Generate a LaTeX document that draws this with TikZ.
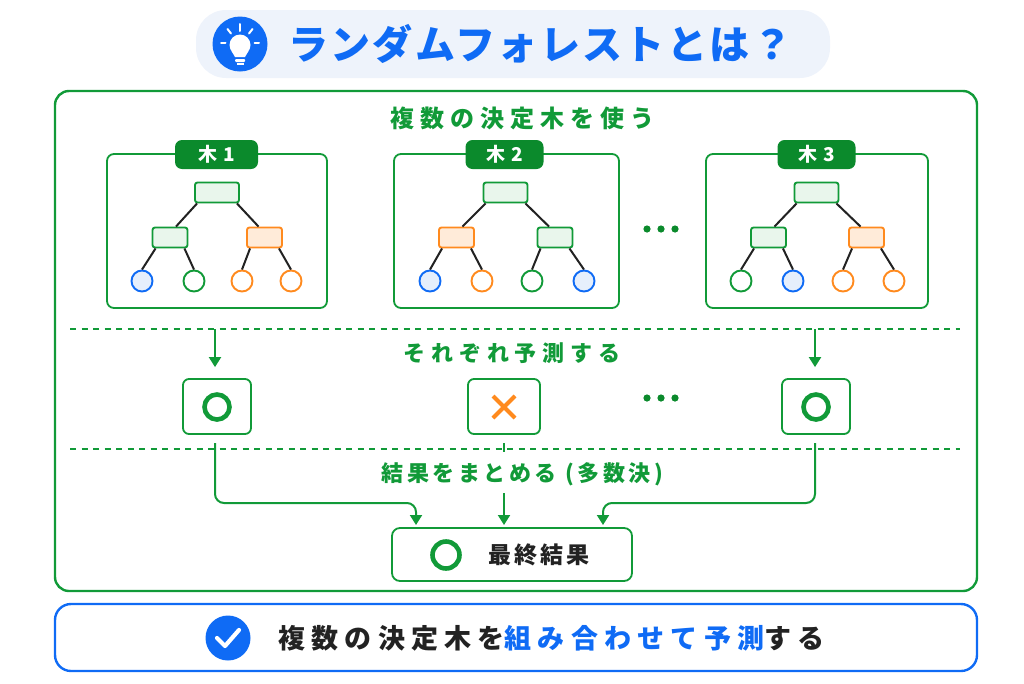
\documentclass[tikz,border=0pt]{standalone}
\usepackage{fontspec}
\usetikzlibrary{arrows.meta,calc}
\setmainfont{Noto Sans CJK JP}
\definecolor{gr}{HTML}{119A38}
\definecolor{dgr}{HTML}{0B8A2C}
\definecolor{bl}{HTML}{0F6BF5}
\definecolor{orr}{HTML}{FF8A1E}
\definecolor{lgr}{HTML}{E9F6EC}
\definecolor{lor}{HTML}{FFEBD9}
\definecolor{lbl}{HTML}{E6EFFC}
\definecolor{pill}{HTML}{EEF3FB}
\definecolor{ink}{HTML}{222222}
\newcommand\spaced[2]{\addfontfeature{LetterSpace=#1}#2}
\tikzset{
  x=1pt,y=-1pt,
  frame/.style={draw=gr,line width=1.8pt,rounded corners=7pt,fill=white},
  tab/.style={fill=dgr,rounded corners=7pt,minimum width=78pt,minimum height=29pt,inner sep=0pt,text=white,font=\bfseries\fontsize{19}{21}\selectfont},
  grect/.style={draw=gr,fill=lgr,line width=1.9pt,rounded corners=2.5pt,minimum width=35pt,minimum height=20pt,inner sep=0pt},
  grootrect/.style={grect,minimum width=44pt},
  orect/.style={grect,draw=orr,fill=lor},
  bleaf/.style={circle,draw=bl,fill=lbl,line width=1.9pt,minimum size=21pt,inner sep=0pt},
  gleaf/.style={bleaf,draw=gr,fill=white},
  oleaf/.style={bleaf,draw=orr,fill=white},
  edge/.style={draw=ink,line width=2pt},
  divider/.style={draw=gr,line width=1.4pt,dash pattern=on 6pt off 5.5pt},
  flow/.style={draw=gr,line width=2pt,-{Triangle[length=10pt,width=12pt]}},
  resbox/.style={draw=gr,line width=1.8pt,rounded corners=6pt,fill=white,minimum width=68pt,minimum height=55pt,inner sep=0pt},
  okring/.style={circle,draw=gr,line width=4.6pt,minimum size=25pt,inner sep=0pt},
  headg/.style={text=gr,font=\bfseries\fontsize{22}{24}\selectfont,inner sep=0pt},
  iconray/.style={draw=white,line width=2pt,line cap=round},
}
\newcommand\treeleaves[5]{% child, x1, style1, x2, style2
  \node[#3] (#1a) at (#2,281) {};
  \node[#5] (#1b) at (#4,281) {};
  \draw[edge] ([xshift=4pt]#1.south west) -- (#1a.north);
  \draw[edge] ([xshift=-4pt]#1.south east) -- (#1b.north);
}
\newcommand\treetop[6]{% prefix, root x, left x, left style, right x, right style
  \node[grootrect] (#1r) at (#2,192.5) {};
  \node[#4] (#1l) at (#3,237.5) {};
  \node[#6] (#1m) at (#5,237.5) {};
  \draw[edge] ([xshift=3pt]#1r.south west) -- ([xshift=6pt]#1l.north);
  \draw[edge] ([xshift=-3pt]#1r.south east) -- ([xshift=-6pt]#1m.north);
}
\begin{document}
\begin{tikzpicture}
\useasboundingbox (0,0) rectangle (1024,683);
% title
\node[fill=pill,rounded corners=30pt,minimum width=634pt,minimum height=68pt,inner sep=0pt] (title) at (513,44) {};
\node[circle,fill=bl,minimum size=55pt,inner sep=0pt] (bulb) at (240,44) {};
\fill[white] (240,45) circle (10.5);
\fill[white] (231.5,51) -- (235,57) -- (245,57) -- (248.5,51) -- cycle;
\fill[white,rounded corners=1pt] (235,59) rectangle (245,62);
\fill[white] (236.5,63) rectangle (243.5,65);
\draw[iconray] (240,24) -- (240,31);
\draw[iconray] (227.5,29) -- (231,33.5);
\draw[iconray] (252.5,29) -- (249,33.5);
\draw[iconray] (221,43) -- (225.5,43);
\draw[iconray] (254.5,43) -- (259,43);
\node[text=bl,font=\bfseries\fontsize{40}{44}\selectfont,inner sep=0pt] (ttext) at (540,44) {\spaced{6}{ランダムフォレストとは？}};
% main frame
\node[draw=gr,line width=2.4pt,rounded corners=14pt,minimum width=922pt,minimum height=500pt,inner sep=0pt] (main) at (516,341) {};
\node[headg,font=\bfseries\fontsize{24}{26}\selectfont] (h1) at (522,118) {\spaced{25}{複数の決定木を使う}};
% tree frames
\node[frame,minimum width=220pt,minimum height=154pt,inner sep=0pt] (f1) at (217,231) {};
\node[frame,minimum width=225pt,minimum height=154pt,inner sep=0pt] (f2) at (506.5,231) {};
\node[frame,minimum width=222pt,minimum height=154pt,inner sep=0pt] (f3) at (817,231) {};
\node[tab,minimum width=83pt] (t1) at (216.5,154.5) {\spaced{8}{木 1}};
\node[tab] (t2) at (504.5,154.5) {\spaced{8}{木 2}};
\node[tab] (t3) at (816.5,154.5) {\spaced{8}{木 3}};
% tree 1
\treetop{a}{217}{170}{grect}{264.5}{orect}
\treeleaves{al}{142}{bleaf}{194}{gleaf}
\treeleaves{am}{242}{oleaf}{291}{oleaf}
% tree 2
\treetop{b}{505.5}{456.5}{orect}{555}{grect}
\treeleaves{bl}{430}{bleaf}{482}{oleaf}
\treeleaves{bm}{532}{gleaf}{584}{bleaf}
% tree 3
\treetop{c}{816.5}{768.5}{grect}{866.5}{orect}
\treeleaves{cl}{741}{gleaf}{793}{bleaf}
\treeleaves{cm}{843}{oleaf}{894}{oleaf}
% dots
\foreach \px in {647,661,675} {\fill[dgr] (\px,229) circle (3.6); \fill[dgr] (\px,398) circle (3.6);}
% dividers
\coordinate (d1a) at (70,329); \coordinate (d1b) at (960,329);
\coordinate (d2a) at (70,449); \coordinate (d2b) at (960,449);
\draw[divider] (d1a) -- (d1b);
\draw[divider] (d2a) -- (d2b);
\node[headg] (h2) at (512,353) {\spaced{27}{それぞれ予測する}};
\node[headg] (h3) at (522.5,474) {\spaced{16}{結果をまとめる (多数決)}};
% result boxes
\node[resbox] (r1) at (217,406.5) {};
\node[resbox,minimum width=72pt] (r2) at (504,406.5) {};
\node[resbox] (r3) at (816,406.5) {};
\node[okring] (o1) at (217,407) {};
\node[okring] (o3) at (816,407) {};
\draw[draw=orr,line width=4pt] (493,396) -- (515,418) (515,396) -- (493,418);
% final
\node[draw=gr,line width=1.8pt,rounded corners=8pt,minimum width=240pt,minimum height=53pt,inner sep=0pt,fill=white] (final) at (512,554.5) {};
\node[okring,minimum size=27pt] (o4) at (446,555) {};
\node[text=ink,font=\bfseries\fontsize{23}{25}\selectfont,inner sep=0pt] (ftext) at (539,555) {\spaced{13}{最終結果}};
% arrows
\coordinate (s1) at (215,329); \coordinate (s3) at (815,329);
\draw[flow] (s1) -- ([xshift=-2pt,yshift=11pt]r1.north);
\draw[flow] (s3) -- ([xshift=-1pt,yshift=11pt]r3.north);
\coordinate (l0) at (215,443); \coordinate (m0) at (504,493); \coordinate (n0) at (815,443); \coordinate (m1) at (504,443);
\coordinate (lt) at (416,525); \coordinate (nt) at (603,525);
\draw[flow,rounded corners=9pt] (l0) -- (215,503) -- (416,503) -- (lt);
\draw[flow,rounded corners=9pt] (n0) -- (815,503) -- (603,503) -- (nt);
\draw[flow] (m0) -- (504,525);
\draw[draw=gr,line width=2pt] (m1) -- (504,452);
% bottom frame
\node[draw=bl,line width=2.4pt,rounded corners=16pt,minimum width=922pt,minimum height=67pt,inner sep=0pt] (bottom) at (516,637.5) {};
\node[circle,fill=bl,minimum size=45pt,inner sep=0pt] (chk) at (228,638) {};
\draw[draw=white,line width=4.2pt,line cap=round,line join=round] (217,638) -- (225,646) -- (239,630);
\node[text=ink,font=\bfseries\fontsize{27}{30}\selectfont,inner sep=0pt] (btext) at (551.5,638) {\spaced{23}{複数の決定木を\textcolor{bl}{組み合わせて予測}する}};
\end{tikzpicture}
\end{document}
